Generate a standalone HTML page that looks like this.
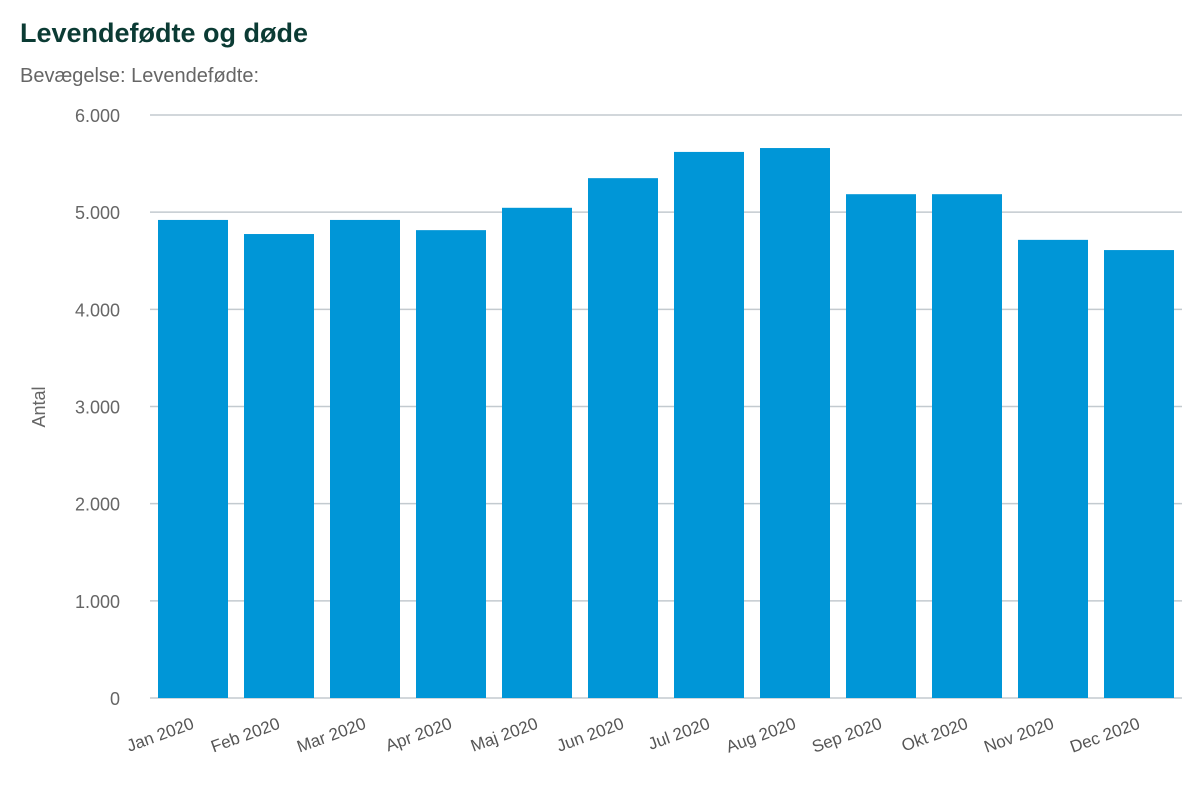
<!DOCTYPE html>
<html><head><meta charset="utf-8"><style>
body{margin:0;background:#fff;width:1200px;height:800px;overflow:hidden;font-family:"Liberation Sans",Arial,sans-serif}
</style></head><body>
<svg width="1200" height="800">
<text x="20" y="42" font-size="27" font-weight="bold" fill="#0b3b34">Levendefødte og døde</text>
<text x="20" y="82" font-size="20" fill="#666">Bevægelse: Levendefødte:</text>
<text transform="translate(45,407) rotate(-90)" text-anchor="middle" font-size="18" fill="#666">Antal</text>
<g id="grid"></g><g id="bars"></g><g id="xl"></g>
</svg>
<script>
const categories=["Jan 2020","Feb 2020","Mar 2020","Apr 2020","Maj 2020","Jun 2020","Jul 2020","Aug 2020","Sep 2020","Okt 2020","Nov 2020","Dec 2020"];
const values=[4920,4775,4920,4815,5045,5350,5620,5660,5185,5185,4715,4610];
const tickValues=[0,1000,2000,3000,4000,5000,6000];
const tickLabels=["0","1.000","2.000","3.000","4.000","5.000","6.000"];
const NS="http://www.w3.org/2000/svg";
const x0=150,x1=1182,yBase=698,yTop=115,yMax=6000;
const y=v=>yBase-(v/yMax)*(yBase-yTop);
const step=(x1-x0)/categories.length;
const xc=i=>x0+step*i+step/2;
function mk(t,a,p){const e=document.createElementNS(NS,t);for(const k in a)e.setAttribute(k,a[k]);p.appendChild(e);return e;}
const g=document.getElementById('grid'),b=document.getElementById('bars'),xl=document.getElementById('xl');
tickValues.forEach((v,i)=>{
 const l=mk('line',{x1:x0,x2:x1,y1:y(v),y2:y(v),stroke:'#c3cacf','stroke-width':1.5},g);
 
 
 const t=mk('text',{x:120,y:y(v)+7,'text-anchor':'end','font-size':18,fill:'#666'},g);
 t.textContent=tickLabels[i];
 
 
});
values.forEach((v,i)=>{
 const r=mk('rect',{x:xc(i)-35,width:70,y:y(v),height:yBase-y(v),fill:'#0096d7'},b);
 
 
 const t=mk('text',{transform:`translate(${xc(i)+2},${yBase+30}) rotate(-20)`,'text-anchor':'end','font-size':17,fill:'#555'},xl);
 t.textContent=categories[i];
 
 
});
</script>
</body></html>
